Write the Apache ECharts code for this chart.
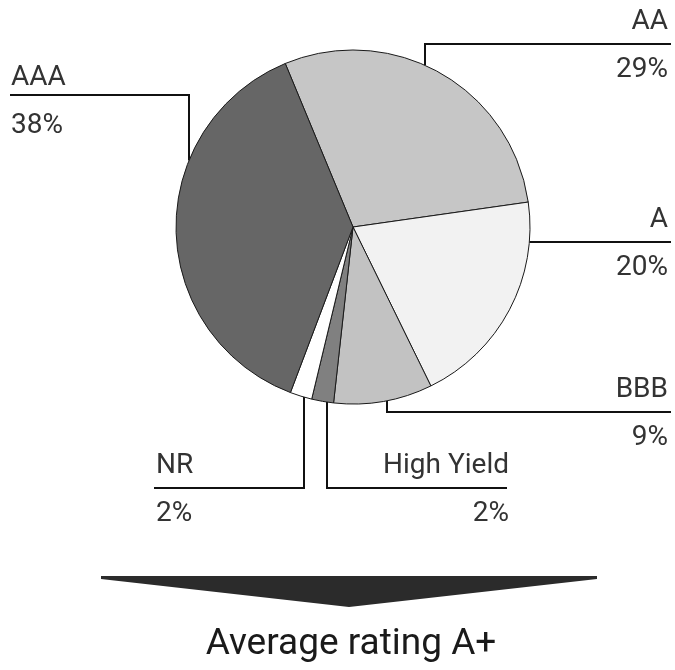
<!DOCTYPE html>
<html>
<head>
<meta charset="utf-8">
<script src="https://cdn.jsdelivr.net/npm/echarts@6/dist/echarts.min.js"></script>
<style>
html,body{margin:0;padding:0;background:#fff;}
#chart{width:675px;height:670px;}
</style>
</head>
<body>
<div id="chart"></div>
<script>
// ---- data ----
const categories = ['AA', 'A', 'BBB', 'High Yield', 'NR', 'AAA'];
const values = [29, 20, 9, 2, 2, 38];
const percentLabels = ['29%', '20%', '9%', '2%', '2%', '38%'];
const sliceColors = ['#c6c6c6', '#f2f2f2', '#c2c2c2', '#808080', '#ffffff', '#666666'];
const footnote = 'Average rating A+';

// ---- layout (positions, not data) ----
const CX = 353, CY = 227, R = 177;
// leader lines: kind 'v' = vertical stub then horizontal; 'h' = horizontal only
const leaders = [
  { kind: 'v', x: 425, y: 44, endX: 671, textX: 668, align: 'right', dy: 0 },
  { kind: 'h', y: 242, endX: 671, textX: 668, align: 'right', dy: 0 },
  { kind: 'v', x: 387, y: 412, endX: 671, textX: 668, align: 'right', dy: 0 },
  { kind: 'v', x: 327, y: 488, endX: 507, textX: 509, align: 'right', dy: 0 },
  { kind: 'v', x: 304, y: 488, endX: 154, textX: 156, align: 'left', dy: 0 },
  { kind: 'v', x: 189, y: 95, endX: 10, textX: 11, align: 'left', dy: 5 }
];

function leaderPoints(L) {
  if (L.kind === 'h') {
    const x0 = CX + Math.sqrt(R * R - (L.y - CY) * (L.y - CY));
    return [[x0, L.y], [(x0 + L.endX) / 2, L.y], [L.endX, L.y]];
  }
  const h = Math.sqrt(R * R - (L.x - CX) * (L.x - CX));
  const y0 = L.y < CY ? CY - h : CY + h;
  return [[L.x, y0], [L.x, L.y], [L.endX, L.y]];
}

const chart = echarts.init(document.getElementById('chart'), null, { renderer: 'canvas' });
const FONT = 'Roboto';

chart.setOption({
  backgroundColor: '#ffffff',
  animation: false,
  graphic: [{
    type: 'polygon',
    shape: { points: [[101, 576], [597, 576], [597, 579], [349, 607], [101, 579]] },
    style: { fill: '#2b2b2b' }
  }, {
    type: 'text',
    x: 351,
    y: 645,
    style: {
      text: footnote,
      fontFamily: FONT,
      fontSize: 37,
      fill: '#1a1a1a',
      textAlign: 'center',
      textVerticalAlign: 'middle'
    }
  }],
  series: [{
    type: 'pie',
    center: [CX, CY],
    radius: R,
    startAngle: 112.5,
    clockwise: true,
    avoidLabelOverlap: false,
    data: categories.map((c, i) => ({ name: c, value: values[i], itemStyle: { color: sliceColors[i] } })),
    itemStyle: { borderColor: '#1a1a1a', borderWidth: 1 },
    emphasis: { disabled: true },
    label: {
      show: true,
      position: 'outside',
      formatter: p => '{n|' + p.name + '}\n{p|' + percentLabels[p.dataIndex] + '}',
      rich: {
        n: { fontFamily: FONT, fontSize: 28, lineHeight: 52, color: '#333333' },
        p: { fontFamily: FONT, fontSize: 28, lineHeight: 44, color: '#333333' }
      }
    },
    labelLine: { show: true, smooth: false, lineStyle: { color: '#111', width: 2 } },
    labelLayout: function (params) {
      const L = leaders[params.dataIndex];
      return {
        x: L.textX,
        y: L.y + L.dy,
        align: L.align,
        verticalAlign: 'middle',
        labelLinePoints: leaderPoints(L)
      };
    }
  }]
});
</script>
</body>
</html>
